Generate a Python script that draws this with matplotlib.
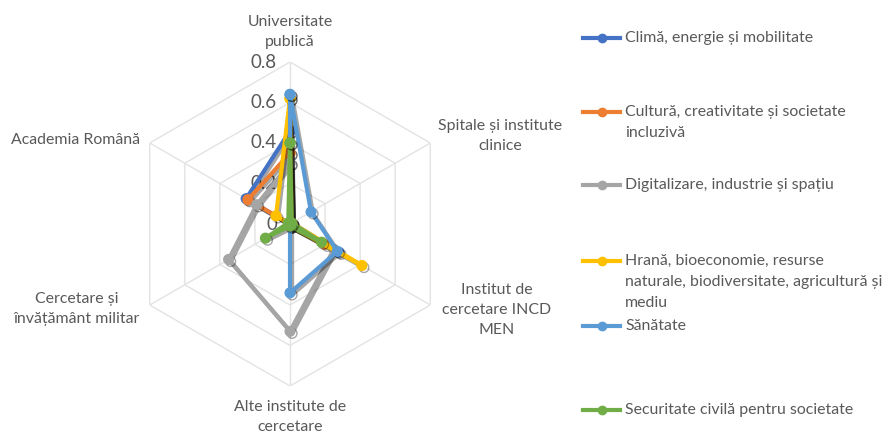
import numpy as np
import matplotlib
matplotlib.use("Agg")
import matplotlib.pyplot as plt
from matplotlib.lines import Line2D
import matplotlib.patheffects as pe

plt.rcParams['font.family'] = ['Lato', 'DejaVu Sans']

categories = ["Universitate\npublică", "Spitale și institute\nclinice",
              "Institut de\ncercetare INCD\nMEN", "Alte institute de\ncercetare",
              "Cercetare și\nînvățământ militar", "Academia Română"]
series_names = ["Climă, energie și mobilitate",
                "Cultură, creativitate și societate\nincluzivă",
                "Digitalizare, industrie și spațiu",
                "Hrană, bioeconomie, resurse\nnaturale, biodiversitate, agricultură și\nmediu",
                "Sănătate",
                "Securitate civilă pentru societate"]
clima = [0.46, 0.01, 0.28, 0.01, 0.0, 0.25]
cultura = [0.35, 0.01, 0.20, 0.01, 0.0, 0.24]
digital = [0.30, 0.01, 0.25, 0.53, 0.35, 0.19]
hrana = [0.62, 0.01, 0.41, 0.01, 0.0, 0.08]
sanatate = [0.64, 0.12, 0.27, 0.34, 0.0, 0.0]
securitate = [0.40, 0.01, 0.18, 0.01, 0.14, 0.01]
series_values = [clima, cultura, digital, hrana, sanatate, securitate]
colors = ["#4472C4", "#ED7D31", "#A5A5A5", "#FFC000", "#5B9BD5", "#70AD47"]
rticks = [0, 0.2, 0.4, 0.6, 0.8]
rtick_labels = ["0", "0.2", "0.4", "0.6", "0.8"]

W, H = 891, 434
fig = plt.figure(figsize=(W / 100, H / 100), dpi=100)
cx, cy, R = 290, 224, 162
ax = fig.add_axes([(cx - R) / W, (H - cy - R) / H, 2 * R / W, 2 * R / H], projection='polar')
ax.set_theta_offset(np.pi / 2)
ax.set_theta_direction(-1)
ax.set_ylim(0, 0.8)
ax.grid(False)
ax.spines['polar'].set_visible(False)
ax.set_xticks([])
ax.set_yticks([])
ax.patch.set_alpha(0)

n = len(categories)
theta = np.linspace(0, 2 * np.pi, n, endpoint=False)
theta_c = np.append(theta, theta[0])
grid_col = "#E3E3E3"
for r in rticks[1:]:
    ax.plot(theta_c, [r] * (n + 1), color=grid_col, lw=1.0, zorder=1)
for t in theta:
    ax.plot([t, t], [0, rticks[-1]], color=grid_col, lw=1.0, zorder=1)

text_col = "#595959"
for r, lab in zip(rticks, rtick_labels):
    ax.annotate(lab, xy=(0, r), xytext=(-13, 0), textcoords='offset pixels',
                ha='right', va='center', fontsize=13.5, color=text_col, zorder=2)

label_off = [(0, 30, 'center'), (8, 7, 'left'), (12, -5, 'left'),
             (0, -31, 'center'), (-10, -4, 'right'), (-10, 3, 'right')]
for t, lab, (dx, dy, ha) in zip(theta, categories, label_off):
    ax.annotate(lab, xy=(t, rticks[-1]), xytext=(dx, dy), textcoords='offset pixels',
                ha=ha, va='center', multialignment='center', fontsize=11.4,
                color=text_col, annotation_clip=False, linespacing=1.55)

shadow = [pe.SimpleLineShadow(offset=(1.5, -1.5), shadow_color='black', alpha=0.35), pe.Normal()]
for vals, col in zip(series_values, colors):
    v = np.append(vals, vals[0])
    ax.plot(theta_c, v, color=col, lw=3.0, marker='o', markersize=7,
            zorder=3, path_effects=shadow, clip_on=False)

# legend
leg_y = [38, 112, 185, 261, 326, 410]
for name, col, y in zip(series_names, colors, leg_y):
    yf = 1 - y / H
    fig.add_artist(Line2D([583 / W, 620 / W], [yf, yf], color=col, lw=3.0,
                          transform=fig.transFigure))
    fig.add_artist(Line2D([601.5 / W], [yf], color=col, marker='o', markersize=6,
                          transform=fig.transFigure))
    fig.text(625 / W, 1 - (y - 7) / H, name, ha='left', va='top', fontsize=11.4,
             color=text_col, linespacing=1.65)

fig.savefig("out.png", dpi=100, facecolor='white')
